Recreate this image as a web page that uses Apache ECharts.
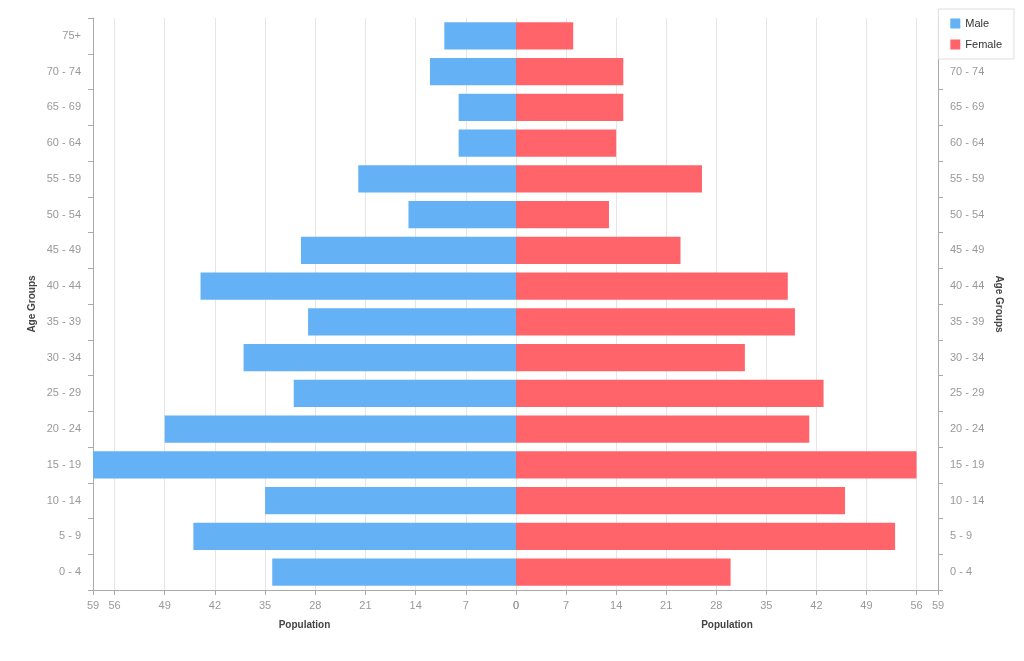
<!DOCTYPE html>
<html>
<head>
<meta charset="utf-8">
<title>Population Pyramid</title>
<script src="https://cdn.jsdelivr.net/npm/echarts@6/dist/echarts.min.js"></script>
<style>
  html, body { margin: 0; padding: 0; background: #fff; }
  #chart { width: 1024px; height: 661px; }
</style>
</head>
<body>
<div id="chart"></div>
<script>
// age groups, bottom to top
var ageGroups = ['0 - 4', '5 - 9', '10 - 14', '15 - 19', '20 - 24', '25 - 29', '30 - 34', '35 - 39',
  '40 - 44', '45 - 49', '50 - 54', '55 - 59', '60 - 64', '65 - 69', '70 - 74', '75+'];
var maleData = [34, 45, 35, 59, 49, 31, 38, 29, 44, 30, 15, 22, 8, 8, 12, 10];
var femaleData = [30, 53, 46, 56, 41, 43, 32, 39, 38, 23, 13, 26, 14, 15, 15, 8];
var axisMax = 59;
var axisStep = 7;

var labelColor = '#999';
var lineColor = '#aaa';
var gridColor = '#e6e6e6';

function xAxisFor(idx, inverse) {
  return {
    type: 'value',
    gridIndex: idx,
    inverse: inverse,
    min: 0,
    max: axisMax,
    interval: axisStep,
    name: 'Population',
    nameLocation: 'middle',
    nameGap: 30,
    nameTextStyle: { fontSize: 10, fontWeight: 'bold', color: '#444' },
    axisLine: { show: true, onZero: false, lineStyle: { color: lineColor } },
    axisTick: { show: true, length: 5, lineStyle: { color: lineColor } },
    axisLabel: { color: labelColor, fontSize: 11, margin: 10 },
    splitLine: { show: true, lineStyle: { color: gridColor } }
  };
}

function yAxisFor(idx, pos, rot) {
  return {
    type: 'category',
    gridIndex: idx,
    position: pos,
    data: ageGroups,
    name: 'Age Groups',
    nameLocation: 'middle',
    nameGap: 56,
    nameRotate: rot,
    nameTextStyle: { fontSize: 10, fontWeight: 'bold', color: '#444' },
    axisLine: { show: true, onZero: false, lineStyle: { color: lineColor } },
    axisTick: { show: true, length: 5, lineStyle: { color: lineColor } },
    axisLabel: { color: labelColor, fontSize: 11, margin: 12 },
    splitLine: { show: false }
  };
}

var chart = echarts.init(document.getElementById('chart'));
chart.setOption({
  animation: false,
  textStyle: { fontFamily: 'Liberation Sans, Arial, sans-serif' },
  legend: {
    data: ['Male', 'Female'],
    orient: 'vertical',
    right: 10,
    top: 9,
    padding: [9, 12],
    itemGap: 10,
    itemWidth: 10,
    itemHeight: 10,
    icon: 'rect',
    backgroundColor: '#fff',
    borderColor: '#ddd',
    borderWidth: 1,
    textStyle: { color: '#333', fontSize: 11 }
  },
  grid: [
    { left: 93, width: 423, top: 18, bottom: 71 },
    { left: 516, width: 422, top: 18, bottom: 71 }
  ],
  xAxis: [xAxisFor(0, true), xAxisFor(1, false)],
  yAxis: [yAxisFor(0, 'left', 90), yAxisFor(1, 'right', -90)],
  series: [
    {
      name: 'Male',
      type: 'bar',
      xAxisIndex: 0,
      yAxisIndex: 0,
      data: maleData,
      barCategoryGap: '24%',
      itemStyle: { color: '#64b2f5' }
    },
    {
      name: 'Female',
      type: 'bar',
      xAxisIndex: 1,
      yAxisIndex: 1,
      data: femaleData,
      barCategoryGap: '24%',
      itemStyle: { color: '#ff646a' }
    }
  ]
});
</script>
</body>
</html>
